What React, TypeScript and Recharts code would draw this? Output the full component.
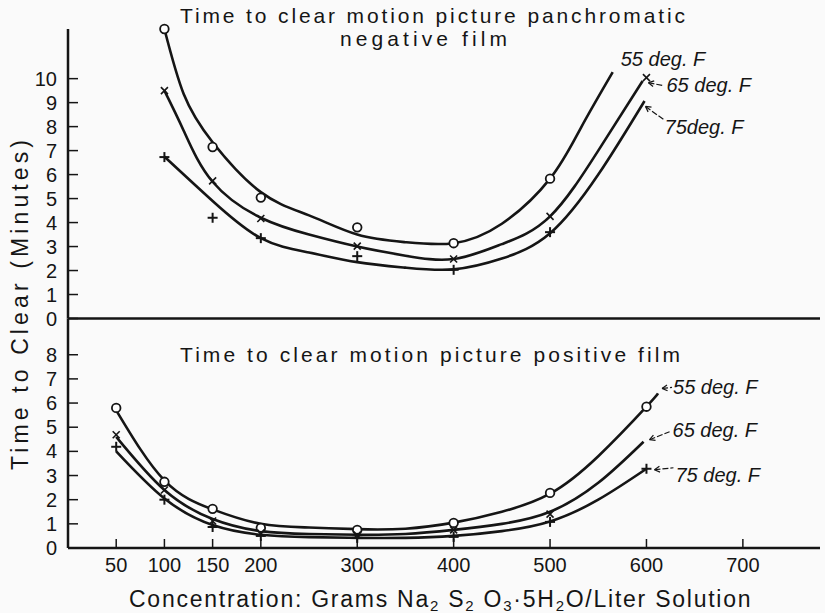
import React from 'react';
import {
  ComposedChart,
  Line,
  Scatter,
  XAxis,
  YAxis,
  ReferenceLine,
  ReferenceDot
} from 'recharts';

// concentration ticks (grams / liter)
const xTicks = [50, 100, 150, 200, 300, 400, 500, 600, 700];
const negYTicks = [0, 1, 2, 3, 4, 5, 6, 7, 8, 9, 10];
const posYTicks = [0, 1, 2, 3, 4, 5, 6, 7, 8];

// panchromatic negative film - fitted curves
const neg55CurveX = [100, 120, 150, 200, 250, 300, 350, 400, 450, 500, 532, 565];
const neg55CurveY = [12.07, 9.36, 7.35, 5.27, 4.3, 3.5, 3.18, 3.14, 3.95, 5.83, 7.95, 10.27];
const neg65CurveX = [100, 120, 150, 200, 250, 300, 350, 400, 450, 500, 550, 596];
const neg65CurveY = [9.5, 7.83, 5.7, 4.2, 3.5, 3.0, 2.62, 2.48, 3.1, 4.26, 7.0, 9.9];
const neg75CurveX = [100, 150, 200, 250, 300, 350, 400, 450, 500, 550, 598];
const neg75CurveY = [6.75, 4.9, 3.35, 2.75, 2.35, 2.12, 2.05, 2.5, 3.55, 6.0, 9.07];

// panchromatic negative film - measured points
const neg55PtsX = [100, 150, 200, 300, 400, 500];
const neg55PtsY = [12.07, 7.15, 5.04, 3.8, 3.14, 5.83];
const neg65PtsX = [100, 150, 200, 300, 400, 500, 600];
const neg65PtsY = [9.5, 5.74, 4.17, 3.02, 2.48, 4.26, 10.04];
const neg75PtsX = [100, 150, 200, 300, 400, 500];
const neg75PtsY = [6.73, 4.2, 3.35, 2.6, 2.03, 3.6];

// positive film - fitted curves
const pos55CurveX = [50, 100, 150, 200, 250, 300, 350, 400, 450, 500, 550, 600, 612];
const pos55CurveY = [5.7, 2.8, 1.6, 1.0, 0.85, 0.78, 0.8, 1.05, 1.5, 2.25, 3.8, 5.85, 6.4];
const pos65CurveX = [50, 100, 150, 200, 250, 300, 350, 400, 450, 500, 550, 597];
const pos65CurveY = [4.6, 2.4, 1.2, 0.7, 0.58, 0.55, 0.58, 0.75, 1.0, 1.5, 2.7, 4.4];
const pos75CurveX = [50, 100, 150, 200, 250, 300, 350, 400, 450, 500, 550, 600];
const pos75CurveY = [4.0, 2.05, 0.95, 0.55, 0.45, 0.42, 0.42, 0.5, 0.7, 1.1, 2.0, 3.28];

// positive film - measured points
const pos55PtsX = [50, 100, 150, 200, 300, 400, 500, 600];
const pos55PtsY = [5.8, 2.74, 1.62, 0.83, 0.75, 1.04, 2.28, 5.85];
const pos65PtsX = [50, 100, 150, 200, 300, 400, 500];
const pos65PtsY = [4.69, 2.4, 1.12, 0.62, 0.54, 0.75, 1.4];
const pos75PtsX = [50, 100, 150, 200, 300, 400, 500, 600];
const pos75PtsY = [4.19, 2.0, 0.87, 0.5, 0.42, 0.46, 1.08, 3.28];

const toXY = (xs: number[], ys: number[]) => xs.map((x, i) => ({ x, y: ys[i] }));

const FONT = "'Liberation Sans', Arial, sans-serif";
const INK = '#151515';

const Circle = (p: any) => (
  <circle cx={p.cx} cy={p.cy} r={4.3} fill="#fff" stroke={INK} strokeWidth={1.8} />
);
const Cross = (p: any) => (
  <g stroke={INK} strokeWidth={1.6}>
    <line x1={p.cx - 3.5} y1={p.cy - 3.5} x2={p.cx + 3.5} y2={p.cy + 3.5} />
    <line x1={p.cx - 3.5} y1={p.cy + 3.5} x2={p.cx + 3.5} y2={p.cy - 3.5} />
  </g>
);
const Plus = (p: any) => (
  <g stroke={INK} strokeWidth={2}>
    <line x1={p.cx - 5} y1={p.cy} x2={p.cx + 5} y2={p.cy} />
    <line x1={p.cx} y1={p.cy - 5} x2={p.cx} y2={p.cy + 5} />
  </g>
);

// label offsets are pixels from the anchor point
const annotations = {
  neg: [
    { x: 565, y: 10.27, text: '55 deg. F', tx: 8, ty: -6, arrow: null },
    { x: 600, y: 10.04, text: '65 deg. F', tx: 20, ty: 14, arrow: [2, 5, 17, 8] },
    { x: 598, y: 9.07, text: '75deg. F', tx: 20, ty: 33, arrow: [1, 5.5, 19, 18.5] }
  ],
  pos: [
    { x: 612, y: 6.4, text: '55 deg. F', tx: 15, ty: 1, arrow: [4, -5, 14, -6] },
    { x: 597, y: 4.4, text: '65 deg. F', tx: 29, ty: -5, arrow: [6, -2, 26, -10] },
    { x: 600, y: 3.28, text: '75 deg. F', tx: 29, ty: 13, arrow: [8, 1, 27, -1] }
  ]
};

const renderAnnot = (vb: any, a: any) => {
  const cx = vb.x + (vb.width || 0) / 2;
  const cy = vb.y + (vb.height || 0) / 2;
  let arrow = null;
  if (a.arrow) {
    const [hx, hy, tx, ty] = a.arrow;
    const x1 = cx + hx, y1 = cy + hy, x2 = cx + tx, y2 = cy + ty;
    const ang = Math.atan2(y2 - y1, x2 - x1);
    const h = 6;
    arrow = (
      <g stroke={INK} strokeWidth={1.2} fill="none">
        <line x1={x1} y1={y1} x2={x2} y2={y2} strokeDasharray="6 2" />
        <line x1={x1} y1={y1} x2={x1 + h * Math.cos(ang + 0.5)} y2={y1 + h * Math.sin(ang + 0.5)} />
        <line x1={x1} y1={y1} x2={x1 + h * Math.cos(ang - 0.5)} y2={y1 + h * Math.sin(ang - 0.5)} />
      </g>
    );
  }
  return (
    <g>
      {arrow}
      <text x={cx + a.tx} y={cy + a.ty} fontFamily={FONT} fontStyle="italic" fontSize={20} fill={INK}>
        {a.text}
      </text>
    </g>
  );
};

const tickStyle = { fontFamily: FONT, fontSize: 20, fill: INK };

export default function App() {
  const W = 825;
  return (
    <div style={{ position: 'absolute', left: 0, top: 0, width: W, height: 613, background: '#fafafa' }}>
      {/* upper panel: panchromatic negative film */}
      <div style={{ position: 'absolute', left: 0, top: 0 }}>
        <ComposedChart width={W} height={330} margin={{ top: 29, right: 5, left: 0, bottom: 11.5 }}>
          <XAxis type="number" dataKey="x" domain={[0, 780]} ticks={xTicks} hide />
          <YAxis
            type="number"
            dataKey="y"
            domain={[0, 12.07]}
            ticks={negYTicks}
            interval={0}
            width={68}
            axisLine={{ stroke: INK, strokeWidth: 2.5 }}
            tickLine={{ stroke: INK, strokeWidth: 1.5 }}
            tickSize={-10}
            tickMargin={21}
            tick={tickStyle}
          />
          <ReferenceLine y={0} stroke={INK} strokeWidth={2.5} />
          <Line data={toXY(neg55CurveX, neg55CurveY)} dataKey="y" type="natural" stroke={INK} strokeWidth={2.6} dot={false} isAnimationActive={false} />
          <Line data={toXY(neg65CurveX, neg65CurveY)} dataKey="y" type="natural" stroke={INK} strokeWidth={2.6} dot={false} isAnimationActive={false} />
          <Line data={toXY(neg75CurveX, neg75CurveY)} dataKey="y" type="natural" stroke={INK} strokeWidth={2.6} dot={false} isAnimationActive={false} />
          <Scatter data={toXY(neg55PtsX, neg55PtsY)} shape={Circle} isAnimationActive={false} />
          <Scatter data={toXY(neg65PtsX, neg65PtsY)} shape={Cross} isAnimationActive={false} />
          <Scatter data={toXY(neg75PtsX, neg75PtsY)} shape={Plus} isAnimationActive={false} />
          {annotations.neg.map((a, i) => (
            <ReferenceDot key={i} x={a.x} y={a.y} r={0} fill="none" stroke="none" ifOverflow="visible"
              label={{ content: (p: any) => renderAnnot(p.viewBox, a) }} />
          ))}
        </ComposedChart>
      </div>

      {/* lower panel: positive film */}
      <div style={{ position: 'absolute', left: 0, top: 0 }}>
        <ComposedChart width={W} height={613} margin={{ top: 318.5, right: 5, left: 0, bottom: 35 }}>
          <XAxis
            type="number"
            dataKey="x"
            domain={[0, 780]}
            ticks={xTicks}
            interval={0}
            height={30}
            axisLine={{ stroke: INK, strokeWidth: 2.5 }}
            tickLine={{ stroke: INK, strokeWidth: 1.5 }}
            tickSize={-9}
            tickMargin={19}
            tick={tickStyle}
          />
          <YAxis
            type="number"
            dataKey="y"
            domain={[0, 9.5]}
            ticks={posYTicks}
            interval={0}
            width={68}
            axisLine={{ stroke: INK, strokeWidth: 2.5 }}
            tickLine={{ stroke: INK, strokeWidth: 1.5 }}
            tickSize={-10}
            tickMargin={21}
            tick={tickStyle}
          />
          <Line data={toXY(pos55CurveX, pos55CurveY)} dataKey="y" type="natural" stroke={INK} strokeWidth={2.6} dot={false} isAnimationActive={false} />
          <Line data={toXY(pos65CurveX, pos65CurveY)} dataKey="y" type="natural" stroke={INK} strokeWidth={2.6} dot={false} isAnimationActive={false} />
          <Line data={toXY(pos75CurveX, pos75CurveY)} dataKey="y" type="natural" stroke={INK} strokeWidth={2.6} dot={false} isAnimationActive={false} />
          <Scatter data={toXY(pos55PtsX, pos55PtsY)} shape={Circle} isAnimationActive={false} />
          <Scatter data={toXY(pos65PtsX, pos65PtsY)} shape={Cross} isAnimationActive={false} />
          <Scatter data={toXY(pos75PtsX, pos75PtsY)} shape={Plus} isAnimationActive={false} />
          {annotations.pos.map((a, i) => (
            <ReferenceDot key={i} x={a.x} y={a.y} r={0} fill="none" stroke="none" ifOverflow="visible"
              label={{ content: (p: any) => renderAnnot(p.viewBox, a) }} />
          ))}
        </ComposedChart>
      </div>

      {/* titles and axis titles */}
      <svg width={W} height={613} style={{ position: 'absolute', left: 0, top: 0, pointerEvents: 'none' }}>
        <g fontFamily={FONT} fill={INK}>
          <text x={180} y={23} fontSize={21} textLength={505} lengthAdjust="spacing">
            Time to clear motion picture panchromatic
          </text>
          <text x={340} y={46} fontSize={21} textLength={167} lengthAdjust="spacing">
            negative film
          </text>
          <text x={180} y={362} fontSize={21} textLength={500} lengthAdjust="spacing">
            Time to clear motion picture positive film
          </text>
          <text x={129} y={607} fontSize={23} letterSpacing={1.75}>
            Concentration: Grams Na<tspan fontSize={15} dy={4}>2</tspan>
            <tspan dy={-4}> S</tspan><tspan fontSize={15} dy={4}>2</tspan>
            <tspan dy={-4}> O</tspan><tspan fontSize={15} dy={4}>3</tspan>
            <tspan dy={-4}>·5H</tspan><tspan fontSize={15} dy={4}>2</tspan>
            <tspan dy={-4}>O/Liter Solution</tspan>
          </text>
          <text
            x={0}
            y={0}
            fontSize={23}
            textAnchor="middle"
            textLength={330}
            lengthAdjust="spacing"
            transform="translate(28 305) rotate(-90)"
          >
            Time to Clear (Minutes)
          </text>
        </g>
      </svg>
    </div>
  );
}
